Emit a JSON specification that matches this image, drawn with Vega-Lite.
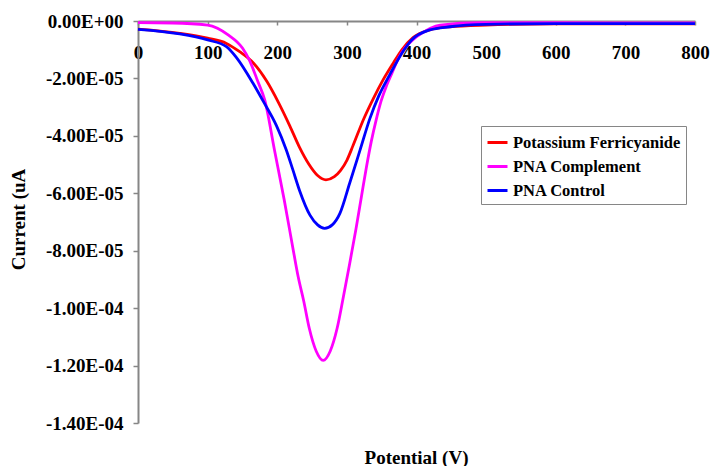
{
  "$schema": "https://vega.github.io/schema/vega-lite/v6.json",
  "width": 557,
  "height": 402,
  "autosize": {"type": "none"},
  "padding": {"left": 138, "top": 21, "right": 17, "bottom": 43},
  "background": "white",
  "config": {
    "view": {"stroke": null},
    "font": "'Liberation Serif', 'DejaVu Serif', 'Noto Serif', serif"
  },
  "data": {
    "values": [
      {"s": "Potassium Ferricyanide", "x": 0, "y": -2.8e-6},
      {"s": "Potassium Ferricyanide", "x": 60, "y": -4.3e-6},
      {"s": "Potassium Ferricyanide", "x": 100, "y": -6.0e-6},
      {"s": "Potassium Ferricyanide", "x": 127, "y": -7.8e-6},
      {"s": "Potassium Ferricyanide", "x": 146, "y": -1.07e-5},
      {"s": "Potassium Ferricyanide", "x": 166, "y": -1.47e-5},
      {"s": "Potassium Ferricyanide", "x": 185, "y": -2.1e-5},
      {"s": "Potassium Ferricyanide", "x": 202, "y": -2.85e-5},
      {"s": "Potassium Ferricyanide", "x": 218, "y": -3.65e-5},
      {"s": "Potassium Ferricyanide", "x": 232, "y": -4.4e-5},
      {"s": "Potassium Ferricyanide", "x": 245, "y": -4.97e-5},
      {"s": "Potassium Ferricyanide", "x": 258, "y": -5.38e-5},
      {"s": "Potassium Ferricyanide", "x": 270, "y": -5.53e-5},
      {"s": "Potassium Ferricyanide", "x": 282, "y": -5.42e-5},
      {"s": "Potassium Ferricyanide", "x": 291, "y": -5.2e-5},
      {"s": "Potassium Ferricyanide", "x": 300, "y": -4.85e-5},
      {"s": "Potassium Ferricyanide", "x": 309, "y": -4.33e-5},
      {"s": "Potassium Ferricyanide", "x": 324, "y": -3.42e-5},
      {"s": "Potassium Ferricyanide", "x": 338, "y": -2.7e-5},
      {"s": "Potassium Ferricyanide", "x": 352, "y": -2.05e-5},
      {"s": "Potassium Ferricyanide", "x": 367, "y": -1.45e-5},
      {"s": "Potassium Ferricyanide", "x": 379, "y": -1.0e-5},
      {"s": "Potassium Ferricyanide", "x": 395, "y": -5.8e-6},
      {"s": "Potassium Ferricyanide", "x": 419, "y": -3.1e-6},
      {"s": "Potassium Ferricyanide", "x": 448, "y": -2.0e-6},
      {"s": "Potassium Ferricyanide", "x": 500, "y": -1.4e-6},
      {"s": "Potassium Ferricyanide", "x": 600, "y": -1.0e-6},
      {"s": "Potassium Ferricyanide", "x": 700, "y": -1.0e-6},
      {"s": "Potassium Ferricyanide", "x": 800, "y": -1.0e-6},
      {"s": "PNA Complement", "x": 0, "y": -6e-7},
      {"s": "PNA Complement", "x": 50, "y": -7e-7},
      {"s": "PNA Complement", "x": 100, "y": -1.4e-6},
      {"s": "PNA Complement", "x": 130, "y": -4.9e-6},
      {"s": "PNA Complement", "x": 150, "y": -9.4e-6},
      {"s": "PNA Complement", "x": 160, "y": -1.36e-5},
      {"s": "PNA Complement", "x": 172, "y": -2.1e-5},
      {"s": "PNA Complement", "x": 182, "y": -2.75e-5},
      {"s": "PNA Complement", "x": 196, "y": -4.49e-5},
      {"s": "PNA Complement", "x": 210, "y": -6.23e-5},
      {"s": "PNA Complement", "x": 223, "y": -7.98e-5},
      {"s": "PNA Complement", "x": 230, "y": -8.9e-5},
      {"s": "PNA Complement", "x": 238, "y": -9.75e-5},
      {"s": "PNA Complement", "x": 246, "y": -1.07e-4},
      {"s": "PNA Complement", "x": 256, "y": -1.15e-4},
      {"s": "PNA Complement", "x": 266, "y": -1.182e-4},
      {"s": "PNA Complement", "x": 276, "y": -1.15e-4},
      {"s": "PNA Complement", "x": 286, "y": -1.07e-4},
      {"s": "PNA Complement", "x": 295, "y": -9.6e-5},
      {"s": "PNA Complement", "x": 304, "y": -8.45e-5},
      {"s": "PNA Complement", "x": 313, "y": -7.25e-5},
      {"s": "PNA Complement", "x": 321, "y": -6.1e-5},
      {"s": "PNA Complement", "x": 328, "y": -5.1e-5},
      {"s": "PNA Complement", "x": 335, "y": -4.2e-5},
      {"s": "PNA Complement", "x": 342, "y": -3.45e-5},
      {"s": "PNA Complement", "x": 349, "y": -2.8e-5},
      {"s": "PNA Complement", "x": 357, "y": -2.25e-5},
      {"s": "PNA Complement", "x": 365, "y": -1.8e-5},
      {"s": "PNA Complement", "x": 374, "y": -1.3e-5},
      {"s": "PNA Complement", "x": 383, "y": -9.5e-6},
      {"s": "PNA Complement", "x": 395, "y": -6.5e-6},
      {"s": "PNA Complement", "x": 408, "y": -4.2e-6},
      {"s": "PNA Complement", "x": 420, "y": -2.5e-6},
      {"s": "PNA Complement", "x": 434, "y": -1.4e-6},
      {"s": "PNA Complement", "x": 491, "y": -6e-7},
      {"s": "PNA Complement", "x": 600, "y": -6e-7},
      {"s": "PNA Complement", "x": 800, "y": -7e-7},
      {"s": "PNA Control", "x": 0, "y": -2.9e-6},
      {"s": "PNA Control", "x": 60, "y": -4.5e-6},
      {"s": "PNA Control", "x": 100, "y": -6.6e-6},
      {"s": "PNA Control", "x": 127, "y": -8.9e-6},
      {"s": "PNA Control", "x": 142, "y": -1.29e-5},
      {"s": "PNA Control", "x": 165, "y": -2.16e-5},
      {"s": "PNA Control", "x": 180, "y": -2.8e-5},
      {"s": "PNA Control", "x": 199, "y": -3.65e-5},
      {"s": "PNA Control", "x": 213, "y": -4.49e-5},
      {"s": "PNA Control", "x": 222, "y": -5.15e-5},
      {"s": "PNA Control", "x": 232, "y": -5.9e-5},
      {"s": "PNA Control", "x": 247, "y": -6.76e-5},
      {"s": "PNA Control", "x": 258, "y": -7.1e-5},
      {"s": "PNA Control", "x": 268, "y": -7.22e-5},
      {"s": "PNA Control", "x": 279, "y": -7.1e-5},
      {"s": "PNA Control", "x": 290, "y": -6.7e-5},
      {"s": "PNA Control", "x": 304, "y": -5.65e-5},
      {"s": "PNA Control", "x": 319, "y": -4.49e-5},
      {"s": "PNA Control", "x": 333, "y": -3.4e-5},
      {"s": "PNA Control", "x": 346, "y": -2.6e-5},
      {"s": "PNA Control", "x": 362, "y": -1.85e-5},
      {"s": "PNA Control", "x": 379, "y": -1.12e-5},
      {"s": "PNA Control", "x": 393, "y": -6.6e-6},
      {"s": "PNA Control", "x": 419, "y": -3.1e-6},
      {"s": "PNA Control", "x": 448, "y": -2.0e-6},
      {"s": "PNA Control", "x": 500, "y": -1.2e-6},
      {"s": "PNA Control", "x": 600, "y": -9e-7},
      {"s": "PNA Control", "x": 700, "y": -9e-7},
      {"s": "PNA Control", "x": 800, "y": -9e-7}
    ]
  },
  "mark": {"type": "line", "strokeWidth": 2.8, "interpolate": "monotone"},
  "encoding": {
    "x": {
      "field": "x",
      "type": "quantitative",
      "scale": {"domain": [0, 800], "nice": false},
      "axis": {
        "orient": "bottom",
        "offset": -402,
        "values": [0, 100, 200, 300, 400, 500, 600, 700, 800],
        "grid": false,
        "title": "Potential (V)",
        "titleFont": "'Liberation Serif', 'DejaVu Serif', 'Noto Serif', serif",
        "titleFontSize": 19,
        "titleFontWeight": "bold",
        "titleColor": "black",
        "titleX": 278,
        "titleY": 436,
        "titleBaseline": "middle",
        "titleAlign": "center",
        "labelFont": "'Liberation Serif', 'DejaVu Serif', 'Noto Serif', serif",
        "labelFontSize": 19,
        "labelFontWeight": "bold",
        "labelColor": "black",
        "labelPadding": 18,
        "labelFlush": false,
        "labelOverlap": false,
        "domainColor": "#868686",
        "domainWidth": 2,
        "tickColor": "#868686",
        "tickWidth": 1.5,
        "tickSize": 4
      }
    },
    "y": {
      "field": "y",
      "type": "quantitative",
      "scale": {"domain": [-0.00014, 0], "nice": false},
      "axis": {
        "values": [0, -0.00002, -0.00004, -0.00006, -0.00008, -0.0001, -0.00012, -0.00014],
        "labelExpr": "datum.value == 0 ? '0.00E+00' : '-' + format(abs(datum.value) / pow(10, floor(log(abs(datum.value)) / LN10 + 1e-9)), '.2f') + 'E-' + format(-floor(log(abs(datum.value)) / LN10 + 1e-9), '02d')",
        "grid": false,
        "title": "Current (uA",
        "titleFont": "'Liberation Serif', 'DejaVu Serif', 'Noto Serif', serif",
        "titleFontSize": 19,
        "titleFontWeight": "bold",
        "titleColor": "black",
        "titleX": -120,
        "titleY": 198,
        "titleAngle": -90,
        "titleBaseline": "middle",
        "titleAlign": "center",
        "labelFont": "'Liberation Serif', 'DejaVu Serif', 'Noto Serif', serif",
        "labelFontSize": 19,
        "labelFontWeight": "bold",
        "labelColor": "black",
        "labelPadding": 10,
        "labelFlush": false,
        "labelOverlap": false,
        "domainColor": "#868686",
        "domainWidth": 2,
        "tickColor": "#868686",
        "tickWidth": 1.5,
        "tickSize": 5
      }
    },
    "color": {
      "field": "s",
      "type": "nominal",
      "sort": ["Potassium Ferricyanide", "PNA Complement", "PNA Control"],
      "scale": {
        "domain": ["Potassium Ferricyanide", "PNA Complement", "PNA Control"],
        "range": ["#FF0000", "#FF00FF", "#0000FF"]
      },
      "legend": {
        "title": null,
        "orient": "none",
        "legendX": 343,
        "legendY": 105,
        "strokeColor": "#868686",
        "fillColor": "white",
        "padding": 5,
        "symbolType": "stroke",
        "symbolSize": 400,
        "symbolStrokeWidth": 3,
        "labelFont": "'Liberation Serif', 'DejaVu Serif', 'Noto Serif', serif",
        "labelFontSize": 16.5,
        "labelFontWeight": "bold",
        "labelColor": "black",
        "labelOffset": 4,
        "rowPadding": 4,
        "labelLimit": 300
      }
    }
  }
}
